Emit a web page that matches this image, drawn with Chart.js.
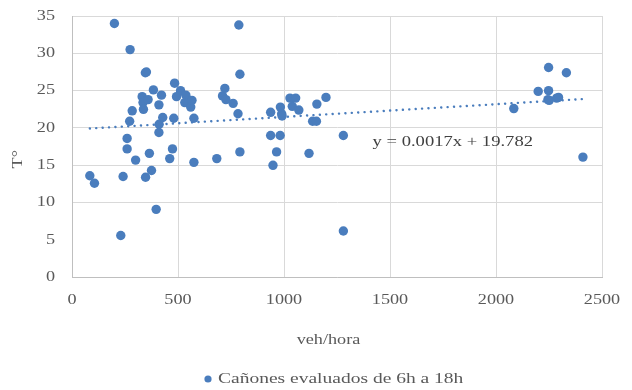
<!DOCTYPE html>
<html>
<head>
<meta charset="utf-8">
<title>Temperatura vs. flujo vehicular</title>
<script src="https://cdn.jsdelivr.net/npm/chart.js@4.4.1/dist/chart.umd.min.js"></script>
<style>
  html, body { margin: 0; padding: 0; background: #ffffff; }
  #wrap { width: 632px; height: 390px; position: relative; }
</style>
</head>
<body>
<div id="wrap"><canvas id="chart" width="632" height="390"></canvas></div>
<script>
// Flujo vehicular (veh/hora) y temperatura (°C) por cañón evaluado
const vehHora = [
  84, 106, 200, 230, 241, 260, 260, 272, 274, 284,
  300, 331, 335, 337, 347, 346, 351, 359, 365, 375,
  384, 397, 410, 411, 410, 422, 428, 461, 474, 480,
  484, 493, 512, 532, 537, 548, 560, 566, 575, 575,
  683, 710, 721, 726, 760, 783, 787, 792, 792, 937,
  937, 948, 965, 983, 982, 989, 991, 1028, 1039, 1055,
  1070, 1118, 1135, 1153, 1155, 1198, 1280, 1280, 2084, 2199,
  2248, 2248, 2245, 2251, 2286, 2295, 2332, 2410
];
const temperatura = [
  13.6, 12.6, 34.0, 5.6, 13.5, 18.6, 17.2, 20.9, 30.5, 22.3,
  15.7, 24.2, 23.4, 22.5, 13.4, 27.4, 27.5, 23.8, 16.6, 14.3,
  25.1, 9.1, 23.1, 20.5, 19.4, 24.4, 21.4, 15.9, 17.2, 21.3,
  26.0, 24.2, 25.0, 23.4, 24.4, 23.4, 22.8, 23.7, 21.3, 15.4,
  15.9, 24.3, 25.3, 23.8, 23.3, 21.9, 33.8, 27.2, 16.8, 22.1,
  19.0, 15.0, 16.8, 22.8, 19.0, 21.9, 21.6, 24.0, 22.9, 24.0,
  22.4, 16.6, 20.9, 20.9, 23.2, 24.1, 19.0, 6.2, 22.6, 24.9,
  28.1, 25.0, 23.8, 23.7, 24.0, 24.1, 27.4, 16.1
];

// Tendencia lineal: y = 0.0017x + 19.782
const pendiente = 0.0017;
const intercepto = 19.782;

// Marcas de los ejes
const xTicks = [0, 500, 1000, 1500, 2000, 2500];
const yTicks = [0, 5, 10, 15, 20, 25, 30, 35];

const serieNombre = 'Cañones evaluados de 6h a 18h';
const ecuacion = 'y = 0.0017x + 19.782';
const tituloX = 'veh/hora';
const tituloY = 'T°';

const puntos = vehHora.map((v, i) => ({ x: v, y: temperatura[i] }));
const xMin = Math.min(...vehHora);
const xMax = Math.max(...vehHora);
const tendencia = [xMin, xMax].map(v => ({ x: v, y: pendiente * v + intercepto }));

const FONT = "'Liberation Serif', 'Times New Roman', serif";
const GRIS = '#595959';
const AZUL = '#4a7dbd';

// Tipografía ensanchada: todo el texto del lienzo se dibuja con un
// factor de anchura horizontal.
const ANCHO = 1.3;
const canvas = document.getElementById('chart');
const ctx2d = canvas.getContext('2d');
const proto = CanvasRenderingContext2D.prototype;
ctx2d.fillText = function (text, x, y) {
  this.save();
  this.translate(x, y);
  this.scale(ANCHO, 1);
  proto.fillText.call(this, text, 0, 0);
  this.restore();
};
ctx2d.measureText = function (text) {
  const m = proto.measureText.call(this, text);
  return {
    width: m.width * ANCHO,
    actualBoundingBoxLeft: m.actualBoundingBoxLeft * ANCHO,
    actualBoundingBoxRight: m.actualBoundingBoxRight * ANCHO,
    actualBoundingBoxAscent: m.actualBoundingBoxAscent,
    actualBoundingBoxDescent: m.actualBoundingBoxDescent,
    fontBoundingBoxAscent: m.fontBoundingBoxAscent,
    fontBoundingBoxDescent: m.fontBoundingBoxDescent
  };
};

// Títulos de ejes, ecuación de la tendencia y leyenda
const rotulos = {
  id: 'rotulos',
  afterDraw(chart) {
    const { ctx, scales, chartArea } = chart;
    ctx.save();
    ctx.textBaseline = 'middle';

    // ecuación junto a la línea de tendencia
    ctx.font = '14.3px ' + FONT;
    ctx.fillStyle = '#404040';
    ctx.textAlign = 'left';
    ctx.fillText(ecuacion, scales.x.getPixelForValue(1418), scales.y.getPixelForValue(18.05));

    // título del eje X
    ctx.font = '14px ' + FONT;
    ctx.fillStyle = GRIS;
    ctx.textAlign = 'center';
    ctx.fillText(tituloX, chartArea.left + (chartArea.right - chartArea.left) * 0.484, 340);

    // título del eje Y
    ctx.save();
    ctx.translate(18.5, chartArea.top + (chartArea.bottom - chartArea.top) * 0.548);
    ctx.rotate(-Math.PI / 2);
    ctx.fillText(tituloY, 0, 0);
    ctx.restore();

    // leyenda
    const ly = 379;
    ctx.fillStyle = AZUL;
    ctx.beginPath();
    ctx.arc(208, ly, 3.6, 0, Math.PI * 2);
    ctx.fill();
    ctx.font = '15px ' + FONT;
    ctx.fillStyle = GRIS;
    ctx.textAlign = 'left';
    ctx.fillText(serieNombre, 218, ly);
    ctx.restore();
  }
};

new Chart(canvas, {
  type: 'scatter',
  data: {
    datasets: [
      {
        label: serieNombre,
        data: puntos,
        backgroundColor: AZUL,
        borderColor: AZUL,
        pointRadius: 4.7,
        pointHoverRadius: 4.7,
        borderWidth: 0,
        order: 1
      },
      {
        label: 'Lineal',
        type: 'line',
        data: tendencia,
        borderColor: AZUL,
        borderWidth: 2.4,
        borderDash: [0.1, 6.3],
        borderCapStyle: 'round',
        pointRadius: 0,
        fill: false,
        order: 2
      }
    ]
  },
  options: {
    responsive: false,
    animation: false,
    events: [],
    layout: { padding: { left: 0, right: 30, top: 16, bottom: 72.7 } },
    plugins: {
      tooltip: { enabled: false },
      legend: { display: false }
    },
    scales: {
      x: {
        type: 'linear',
        min: 0,
        max: 2500,
        afterBuildTicks: s => { s.ticks = xTicks.map(v => ({ value: v })); },
        afterFit: s => { s.height = 40; s.paddingLeft = 0; s.paddingRight = 0; },
        grid: { color: '#d9d9d9', lineWidth: 1, drawTicks: false },
        border: { color: '#bfbfbf', width: 1 },
        ticks: {
          color: GRIS,
          padding: 14.5,
          font: { family: FONT, size: 14 },
          callback: v => String(v)
        }
      },
      y: {
        type: 'linear',
        min: 0,
        max: 35,
        afterBuildTicks: s => { s.ticks = yTicks.map(v => ({ value: v })); },
        afterFit: s => { s.width = 72; s.paddingTop = 0; s.paddingBottom = 0; },
        grid: {
          color: c => (c.tick && c.tick.value === 5) ? 'rgba(0,0,0,0)' : '#d9d9d9',
          lineWidth: 1,
          drawTicks: false
        },
        border: { color: '#bfbfbf', width: 1 },
        ticks: {
          color: GRIS,
          padding: 17,
          font: { family: FONT, size: 14 },
          callback: v => String(v)
        }
      }
    }
  },
  plugins: [rotulos]
});
</script>
</body>
</html>
